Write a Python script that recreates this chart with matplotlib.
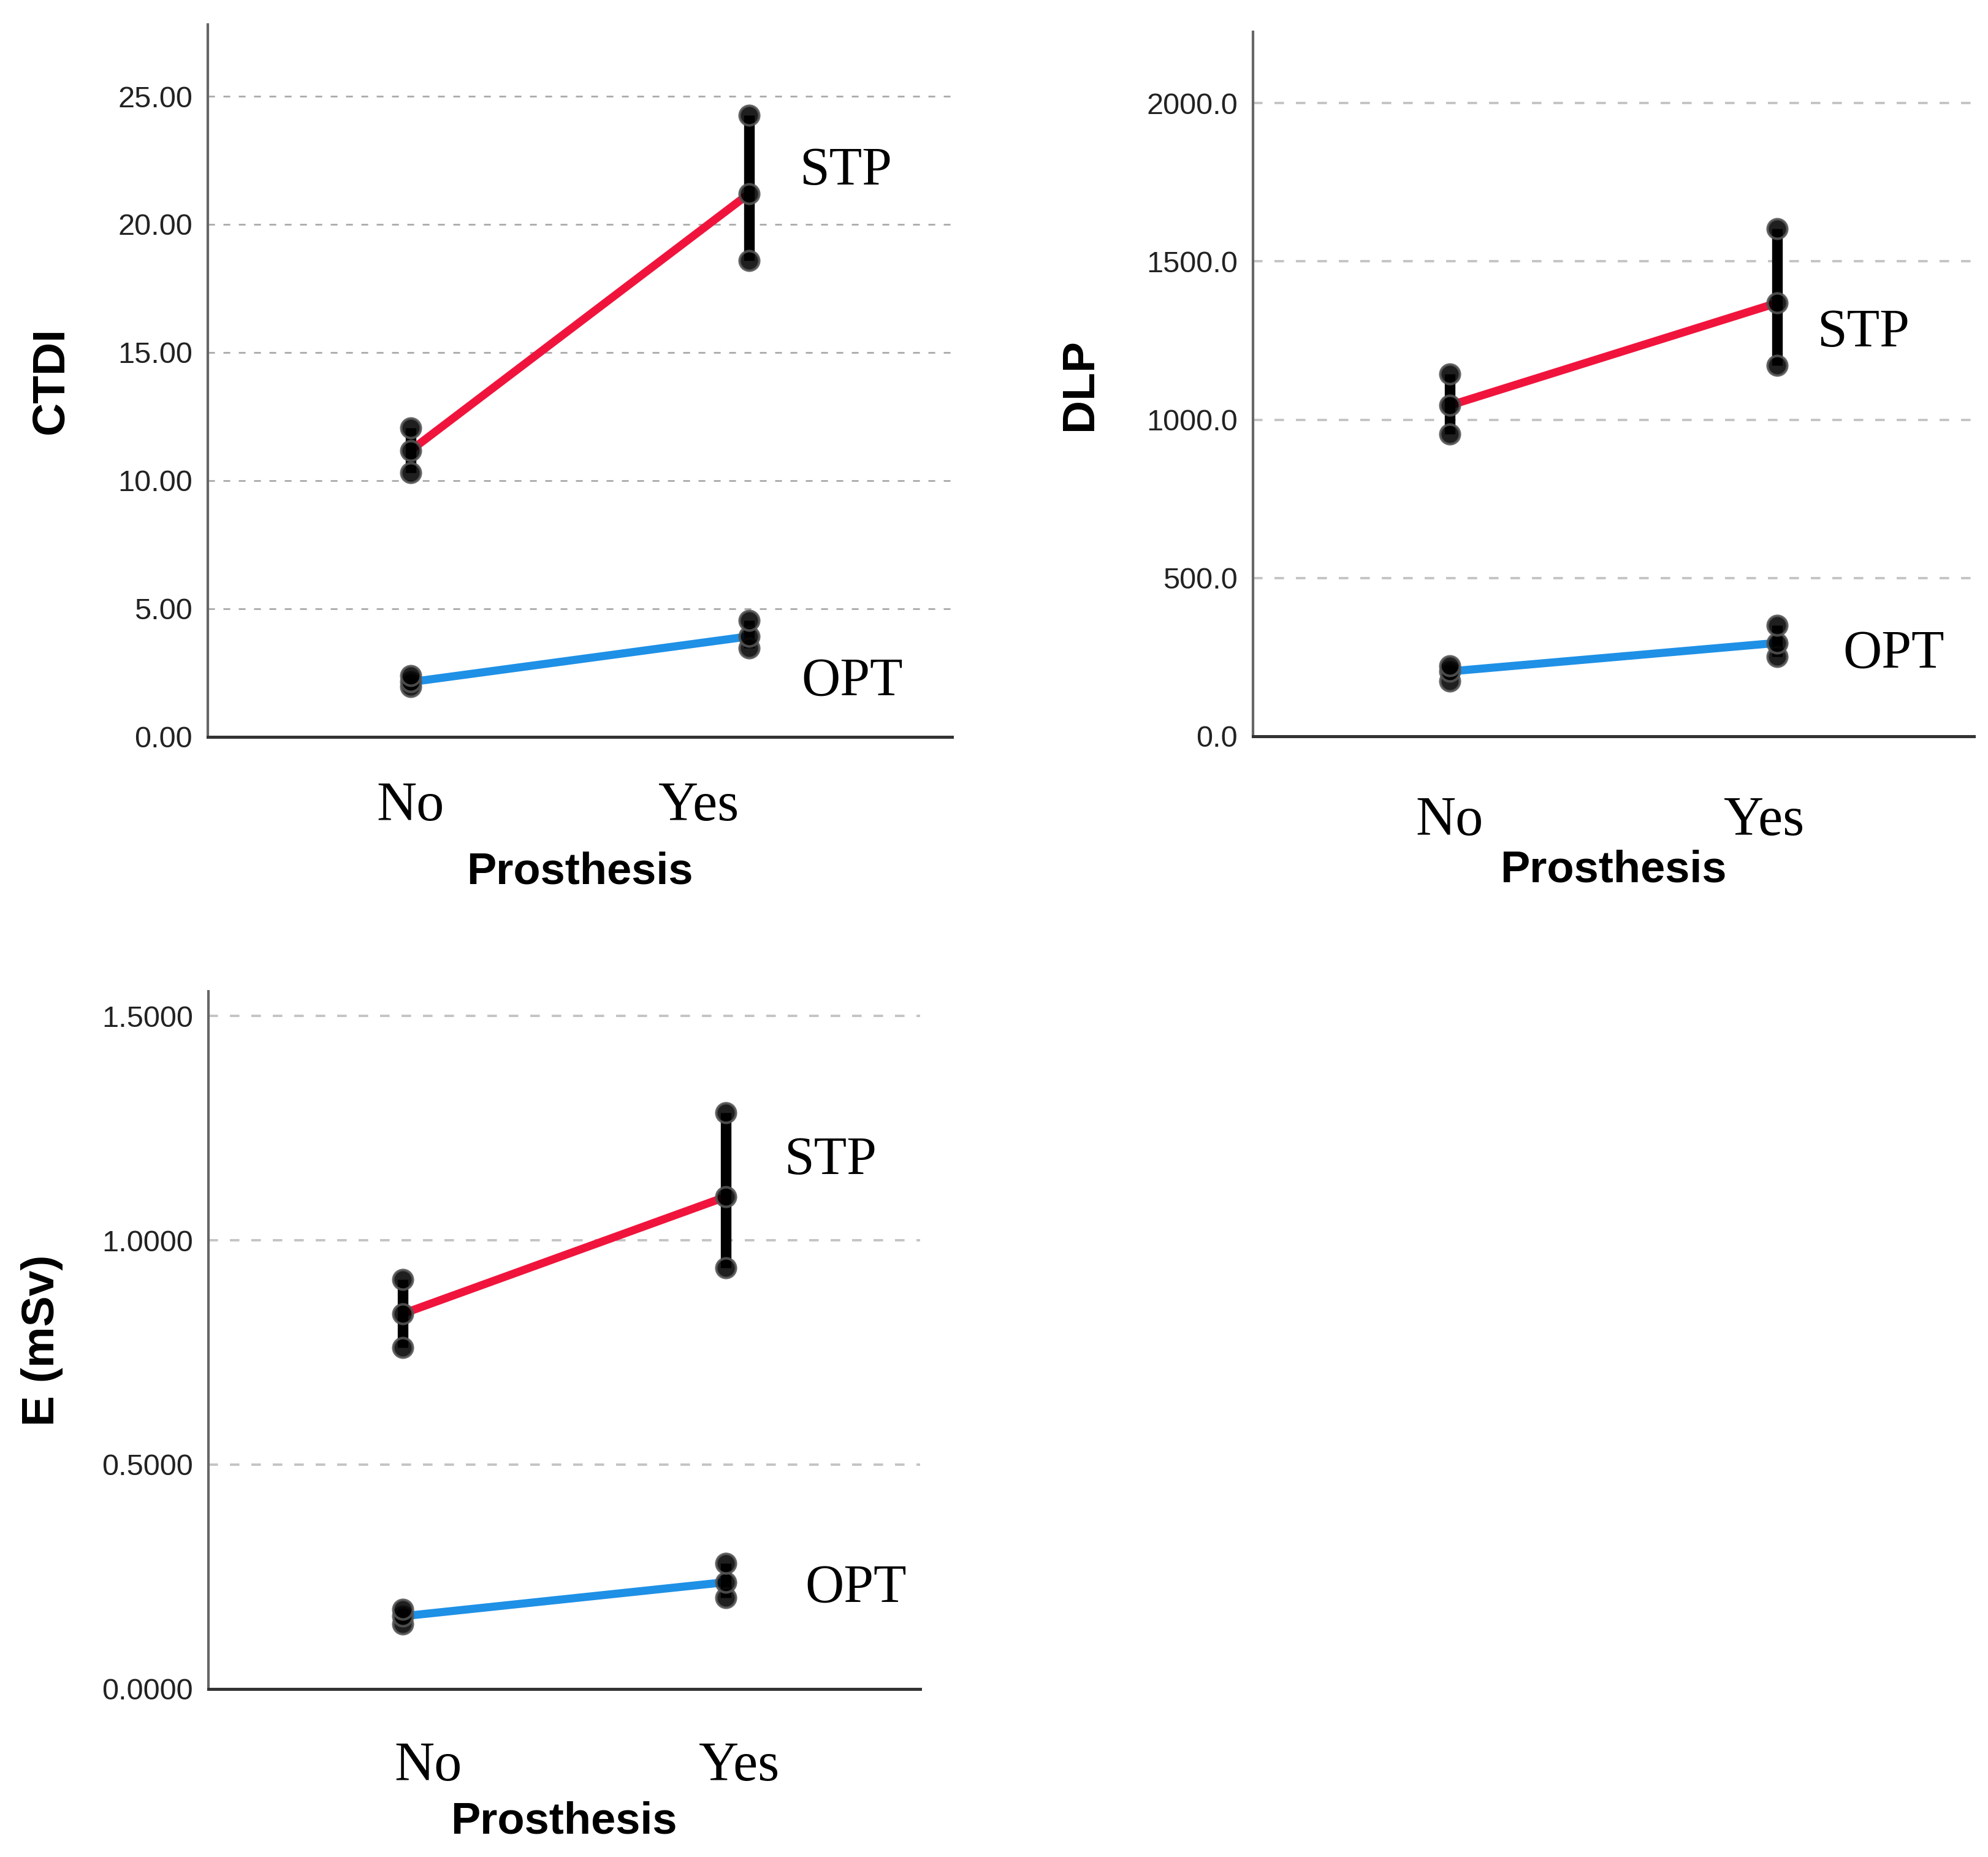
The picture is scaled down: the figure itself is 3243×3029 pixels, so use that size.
import matplotlib
matplotlib.use("Agg")
import matplotlib.pyplot as plt
from matplotlib.ticker import FormatStrFormatter

# values (No / Yes prosthesis)
groups = ["No", "Yes"]
xpos = [0, 1]

ctdi_stp_mean = [11.18, 21.2]
ctdi_stp_low = [10.3, 18.6]
ctdi_stp_high = [12.05, 24.25]
ctdi_opt_mean = [2.14, 3.92]
ctdi_opt_low = [1.96, 3.46]
ctdi_opt_high = [2.4, 4.54]

dlp_stp_mean = [1045, 1369]
dlp_stp_low = [955, 1171]
dlp_stp_high = [1145, 1604]
dlp_opt_mean = [205, 295]
dlp_opt_low = [175, 252]
dlp_opt_high = [222, 350]

e_stp_mean = [0.836, 1.097]
e_stp_low = [0.761, 0.939]
e_stp_high = [0.913, 1.284]
e_opt_mean = [0.162, 0.238]
e_opt_low = [0.145, 0.203]
e_opt_high = [0.177, 0.280]

RED = "#F0143C"
BLUE = "#1E90E6"
SERIF = "Liberation Serif"
SANS = "Liberation Sans"

fig = plt.figure(figsize=(32.43, 30.29), dpi=100)


def draw_series(ax, mean, low, high, color):
    ax.plot(xpos, mean, color=color, lw=9.5, solid_capstyle="butt", zorder=3)
    for i in range(2):
        ax.plot([xpos[i], xpos[i]], [low[i], high[i]], color="black", lw=12.5,
                solid_capstyle="butt", zorder=4)
        ax.plot([xpos[i]] * 3, [low[i], mean[i], high[i]], ls="none", marker="o",
                ms=23, mfc="black", mec="#555555", mew=3, alpha=0.88, zorder=5)


def style_axes(ax, ylim, yticks, fmt, ylabel, xtick_pos, xpad, ylab_x, stp_xy, opt_xy,
               grid_col="#BBBBBB", grid_lw=2.2):
    ax.set_xlim(-0.6, 1.6)
    ax.set_ylim(0, ylim)
    ax.set_yticks(yticks)
    ax.yaxis.set_major_formatter(FormatStrFormatter(fmt))
    for y in yticks[1:]:
        ax.axhline(y, color=grid_col, lw=grid_lw, dashes=(4, 5), zorder=1)
    for s in ["top", "right"]:
        ax.spines[s].set_visible(False)
    ax.spines["left"].set_color("#666666")
    ax.spines["left"].set_linewidth(3)
    ax.spines["bottom"].set_color("#333333")
    ax.spines["bottom"].set_linewidth(3.6)
    ax.tick_params(axis="y", length=0, pad=18, labelsize=35, labelcolor="#222222")
    ax.tick_params(axis="x", length=0, pad=xpad)
    for lab in ax.get_yticklabels():
        lab.set_fontfamily(SANS)
    ax.set_xticks(xtick_pos)
    ax.set_xticklabels(groups, fontfamily=SERIF, fontsize=65)
    ax.set_ylabel(ylabel, fontfamily=SANS, fontsize=54, fontweight="bold", va="center")
    ax.yaxis.set_label_coords(ylab_x, 0.5)
    ax.set_xlabel("Prosthesis", fontfamily=SANS, fontsize=52, fontweight="bold", va="center")
    ax.xaxis.set_label_coords(0.5, -0.19)
    ax.text(stp_xy[0], stp_xy[1], "STP", transform=ax.transAxes, fontfamily=SERIF,
            fontsize=63, ha="center", va="center")
    ax.text(opt_xy[0], opt_xy[1], "OPT", transform=ax.transAxes, fontfamily=SERIF,
            fontsize=63, ha="center", va="center")


# CTDI
ax1 = fig.add_axes([0.1045, 0.6032, 0.3744, 0.3836])
draw_series(ax1, ctdi_stp_mean, ctdi_stp_low, ctdi_stp_high, RED)
draw_series(ax1, ctdi_opt_mean, ctdi_opt_low, ctdi_opt_high, BLUE)
style_axes(ax1, 27.8, [0, 5, 10, 15, 20, 25], "%.2f", "CTDI", [0, 0.85], 52, -0.211,
           (0.857, 0.794), (0.866, 0.077), grid_col="#AAAAAA", grid_lw=2.0)

# DLP
ax2 = fig.add_axes([0.6303, 0.6035, 0.3626, 0.3793])
draw_series(ax2, dlp_stp_mean, dlp_stp_low, dlp_stp_high, RED)
draw_series(ax2, dlp_opt_mean, dlp_opt_low, dlp_opt_high, BLUE)
style_axes(ax2, 2225, [0, 500, 1000, 1500, 2000], "%.1f", "DLP", [0, 0.96], 70, -0.24,
           (0.847, 0.572), (0.889, 0.117), grid_col="#C4C4C4", grid_lw=2.8)

# E (mSv)
ax3 = fig.add_axes([0.1048, 0.0905, 0.358, 0.3757])
draw_series(ax3, e_stp_mean, e_stp_low, e_stp_high, RED)
draw_series(ax3, e_opt_mean, e_opt_low, e_opt_high, BLUE)
style_axes(ax3, 1.555, [0, 0.5, 1.0, 1.5], "%.4f", "E (mSv)", [0.08, 1.04], 62, -0.234,
           (0.874, 0.757), (0.91, 0.144), grid_col="#C4C4C4", grid_lw=2.8)

fig.savefig("out.png", dpi=100)
